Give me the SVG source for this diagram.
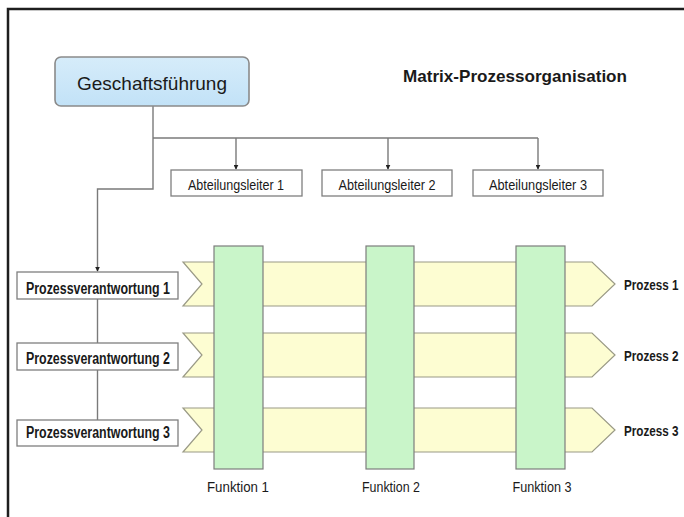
<svg xmlns="http://www.w3.org/2000/svg" width="684" height="517" viewBox="0 0 684 517">
  <style>
    .frame { stroke: #1e1e1e; stroke-width: 2.5; fill: none; }
    .wire { stroke: #7a7a7a; stroke-width: 1.4; fill: none; }
    .box { fill: #ffffff; stroke: #7f7f7f; stroke-width: 1.3; }
    .lane { fill: #fdfdd2; stroke: #9a9a86; stroke-width: 1.2; }
    .col { fill: #c9f5c9; stroke: #7d7d7d; stroke-width: 1.2; }
    text { font-family: "Liberation Sans", Arial, sans-serif; fill: #1a1a1a; }
    .lbl { font-size: 15.5px; text-anchor: middle; }
    .blbl { font-size: 16px; font-weight: bold; text-anchor: middle; }
    .flbl { font-size: 14.5px; text-anchor: middle; }
    .plbl { font-size: 15px; font-weight: bold; }
  </style>
  <defs>
    <linearGradient id="gfFill" x1="0" y1="0" x2="0" y2="1">
      <stop offset="0" stop-color="#d6ecfa"/>
      <stop offset="1" stop-color="#c2e2f7"/>
    </linearGradient>
    <marker id="tip" viewBox="0 0 8 8" refX="7" refY="4" markerWidth="5" markerHeight="5" orient="auto" markerUnits="userSpaceOnUse">
      <path d="M0,0 L8,4 L0,8 Z" fill="#222"/>
    </marker>
  </defs>

  <!-- page frame -->
  <path class="frame" d="M8,517 V9 H684"/>

  <!-- title -->
  <text x="403" y="82" font-size="17" font-weight="bold" textLength="224" lengthAdjust="spacingAndGlyphs">Matrix-Prozessorganisation</text>

  <!-- connectors -->
  <g id="connectors">
    <path class="wire" d="M153,106 V189 H97.5 V271" marker-end="url(#tip)"/>
    <path class="wire" d="M153,138 H538"/>
    <path class="wire" d="M236,138 V169" marker-end="url(#tip)"/>
    <path class="wire" d="M388,138 V169" marker-end="url(#tip)"/>
    <path class="wire" d="M538,138 V169" marker-end="url(#tip)"/>
    <path class="wire" d="M97.5,299 V343"/>
    <path class="wire" d="M97.5,370 V420"/>
  </g>

  <!-- management -->
  <g id="geschaeftsfuehrung">
    <rect x="55" y="57" width="194" height="49" rx="6" fill="url(#gfFill)" stroke="#8a8a8a" stroke-width="1.6"/>
    <text x="152" y="90" font-size="19" text-anchor="middle" textLength="150" lengthAdjust="spacingAndGlyphs">Geschaftsführung</text>
  </g>

  <!-- department heads -->
  <g id="abteilungsleiter1">
    <rect class="box" x="171" y="170" width="131" height="26"/>
    <text class="lbl" x="236" y="190" textLength="96" lengthAdjust="spacingAndGlyphs">Abteilungsleiter 1</text>
  </g>
  <g id="abteilungsleiter2">
    <rect class="box" x="322" y="170" width="130" height="26"/>
    <text class="lbl" x="387" y="190" textLength="97" lengthAdjust="spacingAndGlyphs">Abteilungsleiter 2</text>
  </g>
  <g id="abteilungsleiter3">
    <rect class="box" x="473" y="170" width="130" height="26"/>
    <text class="lbl" x="538" y="190" textLength="98" lengthAdjust="spacingAndGlyphs">Abteilungsleiter 3</text>
  </g>

  <!-- process lanes (labels narrowed with a horizontal scale) -->
  <g id="prozess1">
    <path class="lane" d="M183,262 H592 L615,284 L592,306 H183 L202,284 Z"/>
    <text class="plbl" transform="translate(624,290) scale(0.78,1)">Prozess 1</text>
  </g>
  <g id="prozess2">
    <path class="lane" d="M183,333 H592 L615,355 L592,377 H183 L202,355 Z"/>
    <text class="plbl" transform="translate(624,361) scale(0.78,1)">Prozess 2</text>
  </g>
  <g id="prozess3">
    <path class="lane" d="M183,408 H592 L615,430 L592,452 H183 L202,430 Z"/>
    <text class="plbl" transform="translate(624,436) scale(0.78,1)">Prozess 3</text>
  </g>

  <!-- functions -->
  <g id="funktion1">
    <rect class="col" x="214" y="246" width="49" height="223"/>
    <text class="flbl" x="238" y="492" textLength="62" lengthAdjust="spacingAndGlyphs">Funktion 1</text>
  </g>
  <g id="funktion2">
    <rect class="col" x="366" y="246" width="48" height="223"/>
    <text class="flbl" x="391" y="492" textLength="58" lengthAdjust="spacingAndGlyphs">Funktion 2</text>
  </g>
  <g id="funktion3">
    <rect class="col" x="516" y="246" width="49" height="223"/>
    <text class="flbl" x="542" y="492" textLength="59" lengthAdjust="spacingAndGlyphs">Funktion 3</text>
  </g>

  <!-- process owners -->
  <g id="prozessverantwortung1">
    <rect class="box" x="17" y="272" width="161" height="27"/>
    <text class="blbl" x="98" y="294" textLength="144" lengthAdjust="spacingAndGlyphs">Prozessverantwortung 1</text>
  </g>
  <g id="prozessverantwortung2">
    <rect class="box" x="17" y="343" width="161" height="27"/>
    <text class="blbl" x="98" y="364" textLength="144" lengthAdjust="spacingAndGlyphs">Prozessverantwortung 2</text>
  </g>
  <g id="prozessverantwortung3">
    <rect class="box" x="17" y="420" width="161" height="26"/>
    <text class="blbl" x="98" y="438" textLength="144" lengthAdjust="spacingAndGlyphs">Prozessverantwortung 3</text>
  </g>
</svg>
